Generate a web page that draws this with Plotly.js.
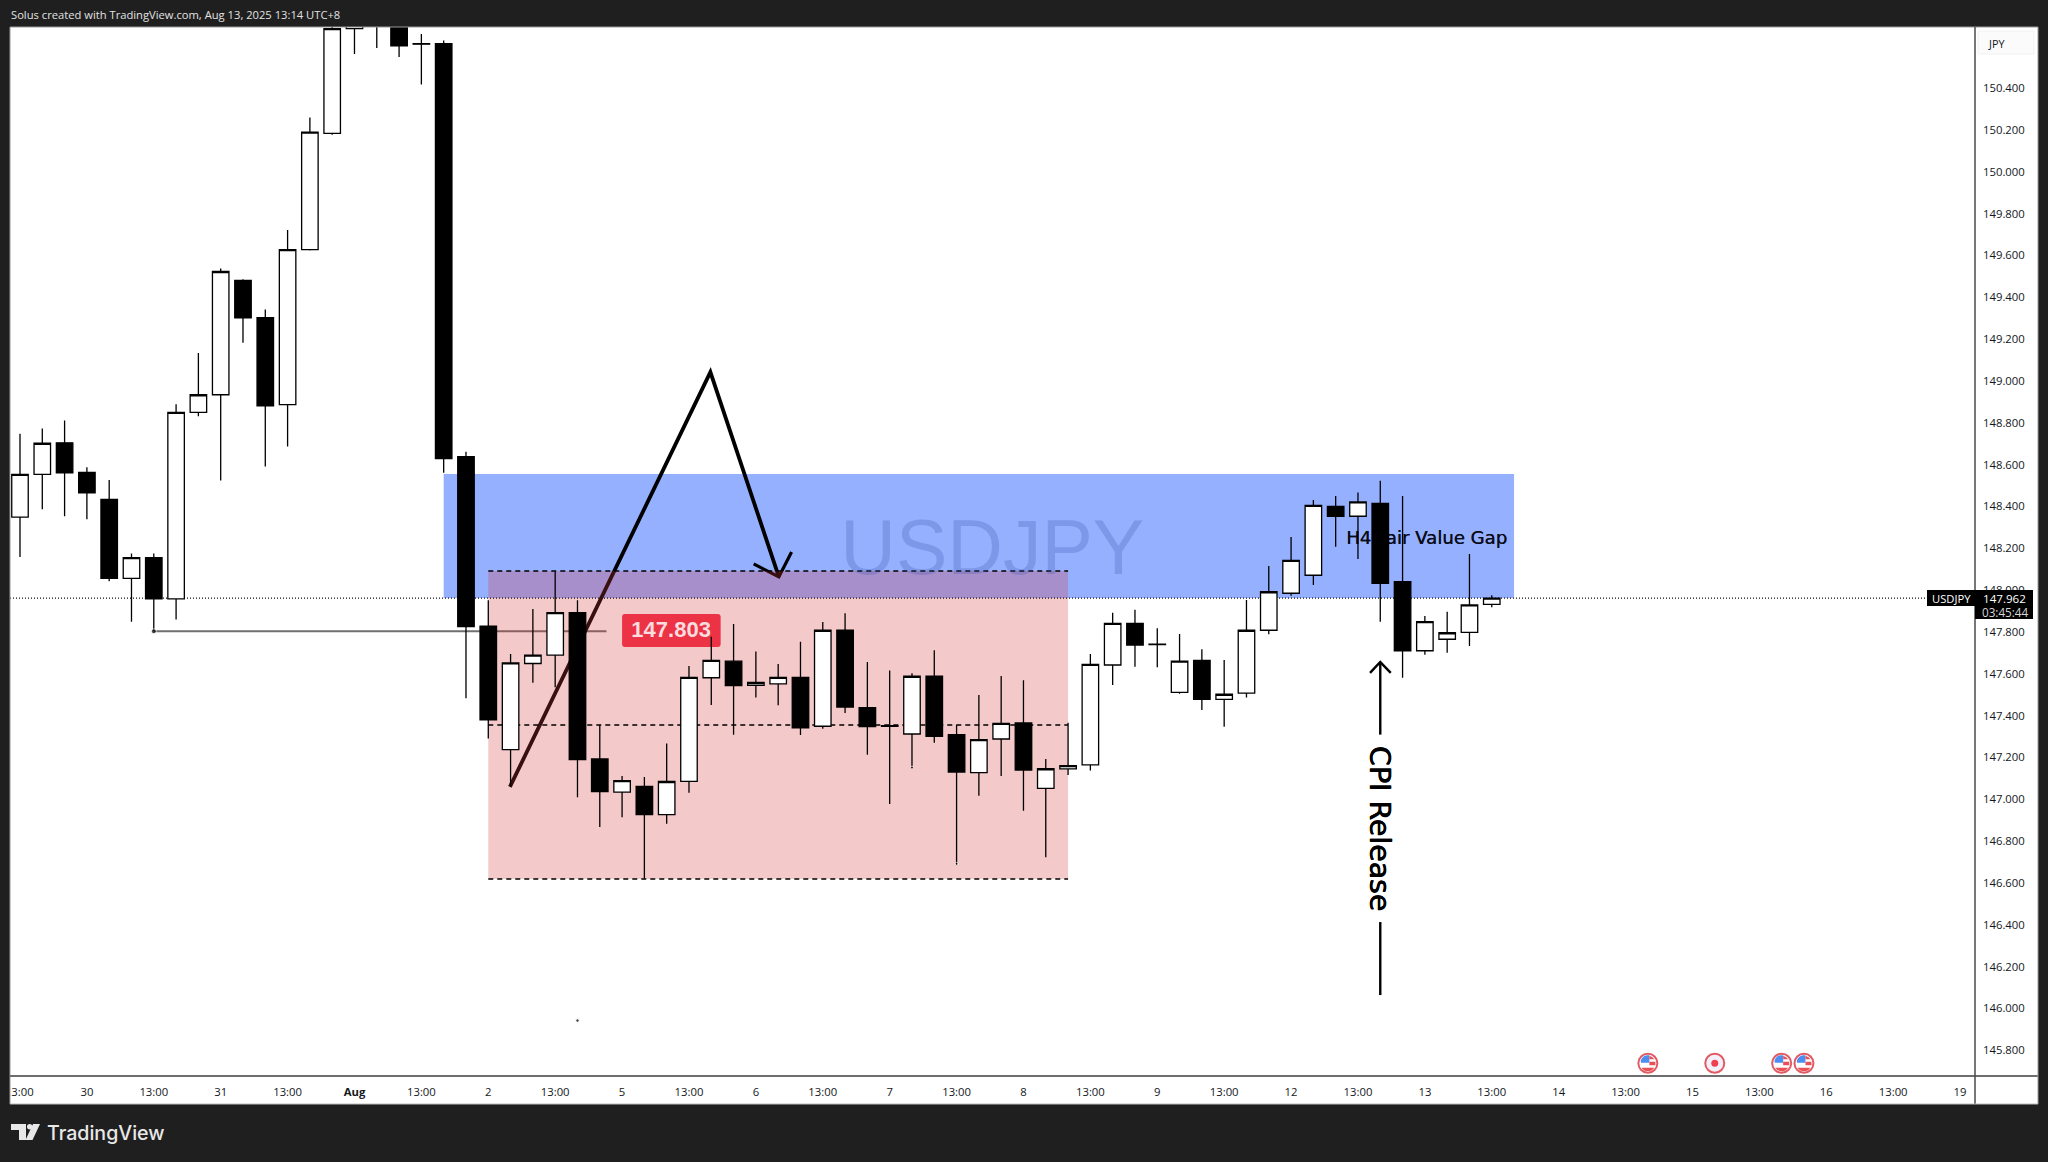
<!DOCTYPE html>
<html>
<head>
<meta charset="utf-8">
<script src="https://cdn.plot.ly/plotly-3.0.1.min.js"></script>
<style>html,body{margin:0;padding:0;background:#1f1f1f;overflow:hidden}#c{width:2048px;height:1162px}</style>
</head>
<body>
<div id="c"></div>
<script>
// ---- candles (4h bars, x = bar number) ----
const opens  = [148.349,148.553,148.704,148.563,148.434,148.056,148.155,147.958,148.850,148.934,149.480,149.302,148.887,149.628,150.183,150.684,150.740,150.760,150.612,150.612,148.638,147.828,147.237,147.649,147.689,147.892,147.193,147.034,147.061,146.927,147.086,147.581,147.660,147.545,147.552,147.583,147.349,147.808,147.438,147.352,147.312,147.588,147.309,147.127,147.288,147.365,147.052,147.145,147.164,147.642,147.841,147.742,147.511,147.664,147.478,147.507,147.808,147.985,148.071,148.400,148.353,148.415,148.040,147.710,147.765,147.798,147.932];
const highs  = [148.748,148.772,148.811,148.587,148.526,148.175,148.175,148.889,149.133,149.537,149.486,149.342,149.722,150.259,150.720,150.800,150.820,150.800,150.659,150.628,148.661,147.951,147.694,147.910,148.089,147.951,147.355,147.111,147.107,147.267,147.637,147.777,147.838,147.707,147.647,147.753,147.847,147.889,147.656,147.615,147.602,147.712,147.355,147.498,147.589,147.569,147.193,147.366,147.694,147.892,147.906,147.817,147.790,147.717,147.666,147.953,148.115,148.254,148.431,148.450,148.467,148.523,148.450,147.876,147.897,148.172,147.975];
const lows   = [148.158,148.386,148.353,148.339,148.042,147.849,147.806,147.859,148.831,148.524,149.182,148.591,148.686,149.623,150.177,150.563,150.592,150.548,150.417,148.561,147.483,147.291,147.061,147.557,147.535,147.010,146.868,146.914,146.621,146.883,147.031,147.451,147.309,147.486,147.449,147.307,147.337,147.412,147.213,146.977,147.151,147.270,146.691,147.017,147.111,146.945,146.723,147.116,147.137,147.546,147.634,147.631,147.505,147.427,147.347,147.487,147.789,147.973,148.024,148.207,148.149,147.849,147.581,147.691,147.701,147.733,147.918];
const closes = [148.553,148.702,148.561,148.465,148.056,148.155,147.958,148.850,148.934,149.523,149.302,148.881,149.628,150.189,150.684,150.740,150.760,150.602,150.610,148.629,147.826,147.380,147.652,147.689,147.892,147.190,147.037,147.089,146.927,147.085,147.583,147.664,147.543,147.559,147.583,147.342,147.808,147.441,147.347,147.349,147.588,147.301,147.130,147.285,147.363,147.140,147.146,147.161,147.645,147.841,147.737,147.740,147.660,147.478,147.502,147.808,147.992,148.142,148.405,148.353,148.422,148.032,147.709,147.849,147.796,147.929,147.962];
const barIdx = opens.map((_, i) => i);

// ---- axis labels ----
const priceTicks = [150.4,150.2,150.0,149.8,149.6,149.4,149.2,149.0,148.8,148.6,148.4,148.2,148.0,147.8,147.6,147.4,147.2,147.0,146.8,146.6,146.4,146.2,146.0,145.8];
const timeTickPos = [0.11,3,6,9,12,15,18,21,24,27,30,33,36,39,42,45,48,51,54,57,60,63,66,69,72,75,78,81,84,87];
const timeTickTxt = ['3:00','30','13:00','31','13:00','<b>Aug</b>','13:00','2','13:00','5','13:00','6','13:00','7','13:00','8','13:00','9','13:00','12','13:00','13','13:00','14','13:00','15','13:00','16','13:00','19'];

// ---- drawn zones and levels ----
const fvgZone = {x: [19, 67], y: [147.962, 148.555]};
const rangeZone = {x: [21, 47], y: [146.619, 148.091]};
const rangeMid = 147.355;
const lastPrice = 147.962;
const levelPrice = 147.803;
const levelBars = [6, 26.3];
const moveX = [21.97, 30.96, 34.03];
const moveY = [147.059, 149.042, 148.063];
const headX = [32.9, 34.03, 34.6];
const headY = [148.125, 148.063, 148.182];
const cpiBar = 61;
const cpiArrowY = [147.656, 147.309];
const cpiHeadX = [60.54, 61, 61.47];
const cpiHeadY = [147.604, 147.656, 147.604];
const cpiTailY = [146.413, 146.064];
const dotX = [6, 25, 40, 42];
const dotY = [147.803, 145.942, 147.151, 146.691];
const flagBars = [73, 79, 80];
const targetBars = [76];
const eventPrice = 145.738;

// ---- frame geometry ----
const L = 10, R = 1975, T = 27, B = 1076, W = 2048, H = 1162;
const px = v => (v - L) / (R - L);
const py = v => (B - v) / (B - T);
const xRange = [-0.448, 87.67];
const yRange = [145.677, 150.692];

const line = (x0, y0, x1, y1, color, width, dash, layer) => ({type: 'line', xref: 'x', yref: 'y', x0, y0, x1, y1, layer: layer || 'below', line: {color, width, dash: dash || 'solid'}});
const poly = (xs, ys) => xs.map((x, i) => (i ? 'L' : 'M') + x + ',' + ys[i]).join(' ');
const paperRect = (x0, y0, x1, y1, fill, layer, lc, lw) => ({type: 'rect', xref: 'paper', yref: 'paper', x0: px(x0), x1: px(x1), y0: py(y0), y1: py(y1), fillcolor: fill, layer: layer || 'below', line: {width: lw || 0, color: lc || fill}});
const paperLine = (x0, y0, x1, y1, color, width) => ({type: 'line', xref: 'paper', yref: 'paper', x0: px(x0), x1: px(x1), y0: py(y0), y1: py(y1), layer: 'above', line: {color, width}});
const paperPath = (pts, fill) => ({type: 'path', xref: 'paper', yref: 'paper', layer: 'above', fillcolor: fill, line: {width: 0}, path: pts.map((p, i) => (i ? 'L' : 'M') + px(p[0]) + ',' + py(p[1])).join(' ') + ' Z'});
const pixPath = (bar, path, fill) => ({type: 'path', xref: 'x', yref: 'y', xsizemode: 'pixel', ysizemode: 'pixel', xanchor: bar, yanchor: eventPrice, layer: 'above', path, fillcolor: fill, line: {width: 0}});

const shapes = [
  // frame strips
  paperRect(L, B, 2038, 1104, '#ffffff'),
  paperRect(R, T, 2038, B, '#ffffff'),
  paperRect(1978, 31, 2034, 54, '#fbfbfb', 'below', '#f1f1f1', 1),
  // zones and lines below the candles
  {type: 'rect', xref: 'x', yref: 'y', x0: fvgZone.x[0], x1: fvgZone.x[1], y0: fvgZone.y[0], y1: fvgZone.y[1], fillcolor: '#94b0ff', layer: 'below', line: {width: 0}},
  line(levelBars[0], levelPrice, levelBars[1], levelPrice, '#6f6f6f', 2),
  {type: 'path', xref: 'x', yref: 'y', layer: 'below', path: poly(moveX, moveY), line: {color: '#000', width: 3.8}},
  {type: 'path', xref: 'x', yref: 'y', layer: 'below', path: poly(headX, headY), line: {color: '#000', width: 3.2}},
  {type: 'rect', xref: 'x', yref: 'y', x0: rangeZone.x[0], x1: rangeZone.x[1], y0: rangeZone.y[0], y1: rangeZone.y[1], fillcolor: 'rgba(215,55,60,0.27)', layer: 'below', line: {width: 0}},
  line(rangeZone.x[0], rangeZone.y[1], rangeZone.x[1], rangeZone.y[1], '#000', 1.5, '5px,4px'),
  line(rangeZone.x[0], rangeMid, rangeZone.x[1], rangeMid, '#000', 1.5, '5px,4px'),
  line(rangeZone.x[0], rangeZone.y[0], rangeZone.x[1], rangeZone.y[0], '#000', 1.5, '5px,4px'),
  line(xRange[0], lastPrice, xRange[1], lastPrice, '#111', 1.2, '1px,2px'),
  // price label box
  {type: 'path', xref: 'x', yref: 'y', layer: 'below', fillcolor: '#ec3345', line: {width: 0},
   path: 'M27.13,147.886 L31.29,147.886 Q31.42,147.886 31.42,147.872 L31.42,147.742 Q31.42,147.728 31.29,147.728 L27.13,147.728 Q27,147.728 27,147.742 L27,147.872 Q27,147.886 27.13,147.886 Z'},
  // CPI arrow
  line(cpiBar, cpiArrowY[0], cpiBar, cpiArrowY[1], '#000', 2.4),
  {type: 'path', xref: 'x', yref: 'y', layer: 'below', path: poly(cpiHeadX, cpiHeadY), line: {color: '#000', width: 2.4}},
  line(cpiBar, cpiTailY[0], cpiBar, cpiTailY[1], '#000', 2.4),
  // frame lines
  paperLine(L, T, 2038, T, '#9a9a9a', 1),
  paperLine(L, T, L, 1104, '#9a9a9a', 1),
  paperLine(L, B, R, B, '#6e6e6e', 2),
  paperLine(R, B, 2038, B, '#6e6e6e', 2),
  paperLine(R, T, R, 1104, '#4a4a4a', 1.5),
  paperLine(2038, T, 2038, 1104, '#9a9a9a', 1),
  paperLine(L, 1104, 2038, 1104, '#bdbdbd', 1),
  // last price tags
  paperRect(1927, 590, 1975, 606, '#000000', 'above'),
  paperRect(R, 590, 2033, 619, '#000000', 'above'),
  // TradingView logo
  paperPath([[11,1124],[26,1124],[26,1140],[19,1140],[19,1130],[11,1130]], '#e8e8e8'),
  paperPath([[33,1124],[40,1124],[32.5,1140],[25.5,1140]], '#e8e8e8'),
  {type: 'circle', xref: 'paper', yref: 'paper', x0: px(27), x1: px(32.4), y0: py(1124), y1: py(1129.4), fillcolor: '#e8e8e8', layer: 'above', line: {width: 0}}
];
flagBars.forEach(b => {
  shapes.push(pixPath(b, 'M-7,0.5 L-7,3 Q-5,7.5 -1,8 L1.5,8 L1.5,0.5 Z', '#4c8ff0'));
  shapes.push(pixPath(b, 'M1.5,7.5 Q5,6.5 6.5,4 L1.5,4 Z', '#ea5055'));
  shapes.push(pixPath(b, 'M1.5,1.5 L7.5,1.5 L7.5,-2 L1.5,-2 Z', '#ea5055'));
  shapes.push(pixPath(b, 'M-6.5,-4.5 L6.5,-4.5 Q4,-8 0,-8 Q-4,-8 -6.5,-4.5 Z', '#ea5055'));
});

const main = {xaxis: 'x', yaxis: 'y', hoverinfo: 'skip', showlegend: false};
const top2 = {xaxis: 'x2', yaxis: 'y2', hoverinfo: 'skip', showlegend: false};
const data = [
  Object.assign({type: 'scatter', mode: 'text', x: [43.6], y: [148.170], text: ['USDJPY'], textposition: 'middle center',
    textfont: {family: 'Liberation Sans', size: 77, color: 'rgba(60,80,170,0.26)'}}, main),
  Object.assign({type: 'scatter', mode: 'text', x: [63.08], y: [148.242], text: ['H4 Fair Value Gap'], textposition: 'middle center',
    textfont: {family: 'DejaVu Sans', size: 18.1, color: '#0a0c18', shadow: '0.3px 0 0 #0a0c18'}}, main),
  Object.assign({type: 'scatter', mode: 'text', x: [29.2], y: [147.801], text: ['<b>147.803</b>'], textposition: 'middle center',
    textfont: {family: 'Liberation Sans', size: 22, color: '#fbdcdf'}}, main),
  Object.assign({type: 'candlestick', x: barIdx, open: opens, high: highs, low: lows, close: closes,
    increasing: {line: {color: '#000', width: 1.3}, fillcolor: '#fff'},
    decreasing: {line: {color: '#000', width: 1.3}, fillcolor: '#000'}}, top2),
  Object.assign({type: 'scatter', mode: 'markers', x: dotX, y: dotY, marker: {color: '#000', size: [5, 3.5, 3, 3]}}, top2),
  Object.assign({type: 'scatter', mode: 'markers', x: flagBars, y: flagBars.map(() => eventPrice),
    marker: {size: 19, color: '#ffffff', line: {color: '#e25a62', width: 2}}}, top2),
  Object.assign({type: 'scatter', mode: 'markers', x: targetBars, y: [eventPrice],
    marker: {size: 19, color: '#f4f0fa', line: {color: '#e25a62', width: 2}}}, top2),
  Object.assign({type: 'scatter', mode: 'markers', x: targetBars, y: [eventPrice],
    marker: {size: 7, color: '#ee4050'}}, top2)
];

const UI = 'Open Sans';
const note = (text, xp, yp, size, color, anchor, extra) => Object.assign({xref: 'paper', yref: 'paper', x: px(xp), y: py(yp), text, showarrow: false, xanchor: anchor || 'center', yanchor: 'middle',
  font: {family: UI, size, color}}, extra || {});

const layout = {
  width: W, height: H, paper_bgcolor: '#1f1f1f', plot_bgcolor: '#ffffff',
  margin: {l: L, r: W - R, t: T, b: H - B, pad: 0}, showlegend: false, hovermode: false, dragmode: false,
  boxgap: 0.26, boxgroupgap: 0,
  xaxis: {type: 'linear', range: xRange, fixedrange: true, showgrid: false, zeroline: false, showline: false, tickmode: 'array', tickvals: timeTickPos, ticktext: timeTickTxt, ticks: 'outside', ticklen: 5, tickwidth: 0, tickcolor: 'rgba(0,0,0,0)', tickangle: 0, tickfont: {family: UI, size: 11.3, color: '#131722'}, rangeslider: {visible: false}},
  yaxis: {type: 'linear', range: yRange, fixedrange: true, side: 'right', showgrid: false, zeroline: false, showline: false, tickmode: 'array', tickvals: priceTicks, ticktext: priceTicks.map(v => v.toFixed(3)), ticks: '', ticklabelstandoff: 7, tickfont: {family: UI, size: 11.3, color: '#131722'}},
  xaxis2: {type: 'linear', overlaying: 'x', range: xRange, fixedrange: true, visible: false, rangeslider: {visible: false}},
  yaxis2: {type: 'linear', overlaying: 'y', range: yRange, fixedrange: true, visible: false},
  shapes,
  annotations: [
    note('Solus created with TradingView.com, Aug 13, 2025 13:14 UTC+8', 9, 15, 11.2, '#e2e2e2', 'left'),
    note('TradingView', 45, 1132.5, 19.6, '#e8e8e8', 'left', {font: {family: 'Inter', size: 19.6, color: '#e8e8e8', weight: 500}}),
    note('JPY', 1996, 43, 10.8, '#131722'),
    note('USDJPY', 1951, 598, 11.2, '#ffffff'),
    note('147.962', 2004, 598, 11.6, '#ffffff'),
    note('03:45:44', 2005.5, 612, 11.7, '#d6d6d6'),
    {xref: 'x', yref: 'y', x: cpiBar, y: 146.862, text: 'CPI Release', showarrow: false, textangle: 90, xanchor: 'center', yanchor: 'middle',
     font: {family: 'DejaVu Sans', size: 28.4, color: '#000000', shadow: '0.7px 0 0 #000, 0 0.7px 0 #000'}}
  ]
};
Plotly.newPlot('c', data, layout, {displayModeBar: false, staticPlot: true});
</script>
</body>
</html>
